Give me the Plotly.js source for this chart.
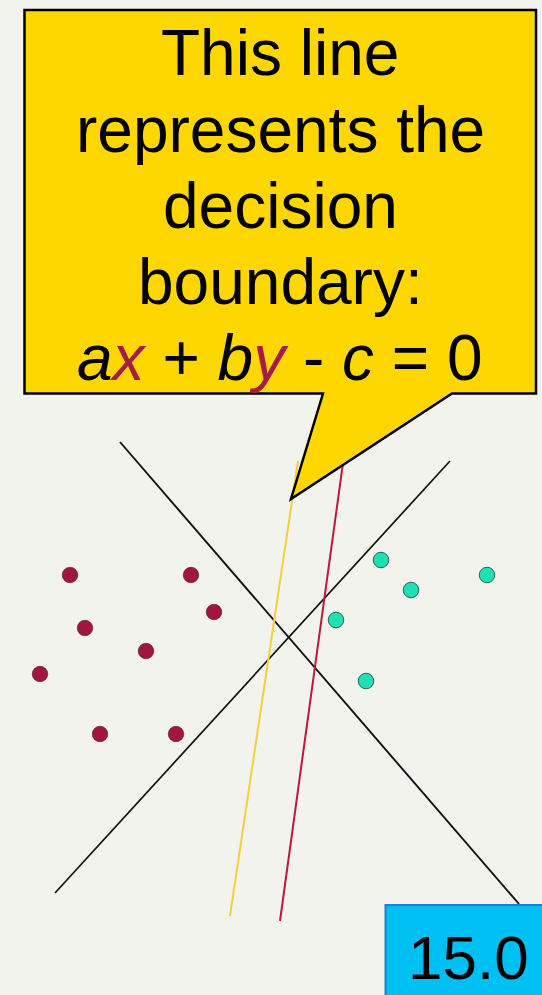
<!DOCTYPE html>
<html>
<head>
<meta charset="utf-8">
<script src="https://cdn.plot.ly/plotly-3.0.1.min.js"></script>
<style>html,body{margin:0;padding:0;background:#F3F3EE;}#chart{width:542px;height:995px;}</style>
</head>
<body>
<div id="chart"></div>
<script>
// Class A points (crimson)
const classAx = [70, 191, 214, 85, 146, 40, 100, 176];
const classAy = [575, 575, 612, 628, 651, 674, 734, 734];
// Class B points (teal)
const classBx = [381, 487, 411, 336, 366];
const classBy = [560, 575, 590, 620, 681];
// Candidate boundary lines: [x start, x end], [y start, y end]
const lineNames = ["black1", "black2", "yellow", "red"];
const lineX = [[120, 519], [55, 450], [298, 230], [343, 280]];
const lineY = [[442, 904], [893, 461], [461, 916], [463, 921]];
const lineColors = ["#111111", "#111111", "#F2D03A", "#C0183C"];
const lineWidths = [1.9, 1.7, 2, 2];
// Callout text lines
const calloutLines = ["This line", "represents the", "decision", "boundary:",
  "<i>a</i><i><span style='color:#A81B45'>x</span></i> + <i>b</i><i><span style='color:#A81B45'>y</span></i> - <i>c</i> = 0"];
const badgeText = "15.0";

const traces = [];
for (let i = 0; i < lineNames.length; i++) {
  traces.push({
    type: "scatter", mode: "lines", name: lineNames[i],
    x: lineX[i], y: lineY[i],
    line: {color: lineColors[i], width: lineWidths[i]},
    hoverinfo: "skip", showlegend: false
  });
}
traces.push({
  type: "scatter", mode: "markers", x: classAx, y: classAy, showlegend: false,
  marker: {size: 15.5, color: "#A0163E", line: {color: "rgba(80,20,30,0.6)", width: 1}}
});
traces.push({
  type: "scatter", mode: "markers", x: classBx, y: classBy, showlegend: false,
  marker: {size: 15.5, color: "#1EE0B2", line: {color: "#2C6656", width: 1}}
});

const baselines = [75, 152, 228, 304, 380];
const fs = 64;
const annotations = calloutLines.map((t, i) => ({
  x: 280, y: baselines[i] - 0.3465 * fs, xref: "x", yref: "y",
  text: t, showarrow: false, xanchor: "center", yanchor: "middle",
  font: {family: "Liberation Sans, Arial, sans-serif", size: fs, color: "#000"}
}));
annotations.push({
  x: 468, y: 979 - 0.3465 * 62, xref: "x", yref: "y", text: badgeText, showarrow: false,
  xanchor: "center", yanchor: "middle",
  font: {family: "Liberation Sans, Arial, sans-serif", size: 62, color: "#000"}
});

const layout = {
  width: 542, height: 995,
  margin: {l: 0, r: 0, t: 0, b: 0},
  paper_bgcolor: "#F3F3EE", plot_bgcolor: "#F3F3EE",
  xaxis: {range: [0, 542], visible: false, fixedrange: true},
  yaxis: {range: [995, 0], visible: false, fixedrange: true},
  shapes: [
    {type: "path", layer: "above", xref: "x", yref: "y",
     path: "M24.5,10 L536,10 L536,393.5 L452,393.5 L291,499 L323,393.5 L24.5,393.5 Z",
     fillcolor: "#FFD700", line: {color: "#000", width: 2.5}},
    {type: "rect", layer: "above", xref: "x", yref: "y",
     x0: 385.5, y0: 905, x1: 545, y1: 1000,
     fillcolor: "#00BFF3", line: {color: "#1A80CF", width: 2}}
  ],
  annotations: annotations
};

Plotly.newPlot("chart", traces, layout, {staticPlot: true, displayModeBar: false});
</script>
</body>
</html>
